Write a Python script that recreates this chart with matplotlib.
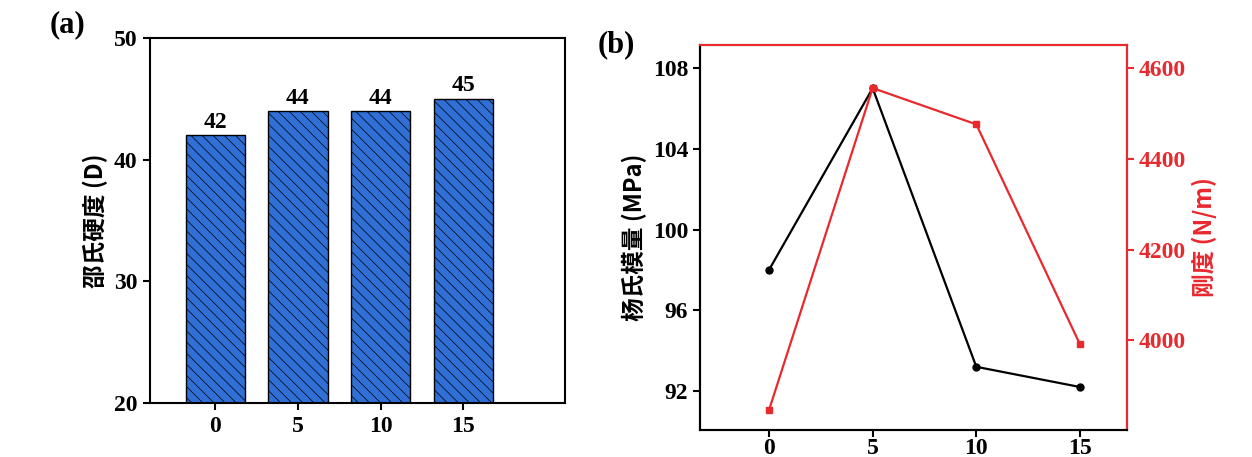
import matplotlib
matplotlib.use("Agg")
import matplotlib.pyplot as plt

plt.rcParams["font.family"] = ["Times New Roman", "Liberation Serif", "Noto Sans CJK SC", "DejaVu Sans"]
plt.rcParams["hatch.color"] = "#1d4fa0"
plt.rcParams["hatch.linewidth"] = 0.5

CONTENT = ["0", "5", "10", "15"]
HARDNESS = [42, 44, 44, 45]
X_LINE = [0, 5, 10, 15]
MODULUS = [98.0, 107.0, 93.2, 92.2]
STIFFNESS = [3846, 4556, 4476, 3991]

CJK = ["Noto Sans CJK SC", "DejaVu Sans"]
BOLD = dict(fontsize=17, fontweight="bold")

fig = plt.figure(figsize=(12.52, 4.57), dpi=100, facecolor="white")

ax1 = fig.add_axes([150 / 1252, 1 - 403 / 457, 415 / 1252, 365 / 457])
pos = range(len(CONTENT))
ax1.bar(pos, HARDNESS, width=0.72, color="#2f6fd6", edgecolor="black", linewidth=1.0, hatch="\\\\\\")
for p, v in zip(pos, HARDNESS):
    ax1.text(p, v + 0.2, str(v), ha="center", va="bottom", **BOLD)
ax1.set_ylim(20, 50)
ax1.set_xlim(-0.79, 4.23)
ax1.set_xticks(list(pos), CONTENT)
ax1.set_yticks([20, 30, 40, 50])
ax1.set_ylabel("邵氏硬度 (D)", fontsize=17, family=CJK, fontweight="bold")
ax1.tick_params(labelsize=17, width=1.5, length=5, pad=4)
for lab in ax1.get_xticklabels() + ax1.get_yticklabels():
    lab.set_fontweight("bold")
for s in ax1.spines.values():
    s.set_linewidth(1.5)
fig.text(50 / 1252, 1 - 25 / 457, "(a)", fontsize=22, fontweight="bold", va="center")

ax2 = fig.add_axes([700 / 1252, 1 - 430 / 457, 427 / 1252, 385 / 457])
ax2.plot(X_LINE, MODULUS, color="black", marker="o", markersize=5, linewidth=1.6)
ax2.set_xlim(-3.33, 17.27)
ax2.set_ylim(90.07, 109.14)
ax2.set_xticks(X_LINE)
ax2.set_yticks([92, 96, 100, 104, 108])
ax2.set_ylabel("杨氏模量 (MPa)", fontsize=17, family=CJK, fontweight="bold")
ax2.tick_params(labelsize=17, width=1.5, length=5)
ax2.tick_params(axis="x", pad=1)
for lab in ax2.get_xticklabels() + ax2.get_yticklabels():
    lab.set_fontweight("bold")

ax3 = ax2.twinx()
ax3.plot(X_LINE, STIFFNESS, color="#e8292e", marker="s", markersize=5, linewidth=1.6)
ax3.set_ylim(3802, 4651)
ax3.set_yticks([4000, 4200, 4400, 4600])
ax3.set_ylabel("刚度 (N/m)", fontsize=17, color="#e8292e", family=CJK, fontweight="bold")
ax3.tick_params(labelsize=17, width=1.5, length=5, colors="#e8292e")
for lab in ax3.get_yticklabels():
    lab.set_fontweight("bold")
for s in ax2.spines.values():
    s.set_linewidth(1.5)
for s in ax3.spines.values():
    s.set_linewidth(1.5)
ax3.spines["right"].set_color("#e8292e")
ax3.spines["top"].set_color("#e8292e")
fig.text(598 / 1252, 1 - 45 / 457, "(b)", fontsize=22, fontweight="bold", va="center")

fig.savefig("out.png", dpi=100, facecolor="white")
